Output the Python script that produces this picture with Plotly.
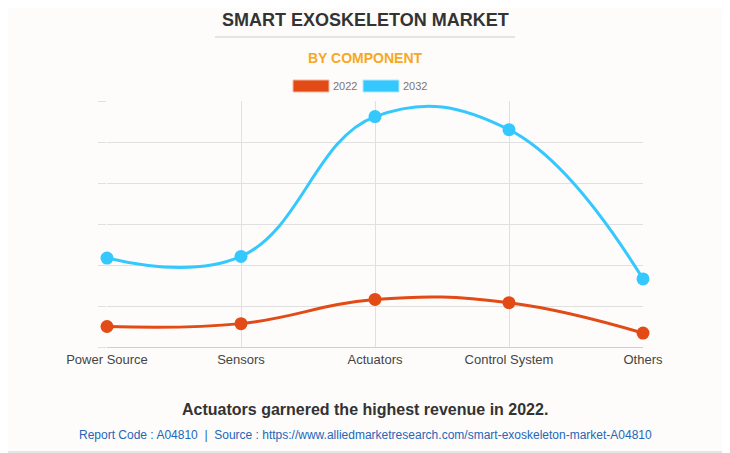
import plotly.graph_objects as go

categories = ["Power Source", "Sensors", "Actuators", "Control System", "Others"]
values_2022 = [0.50, 0.57, 1.16, 1.08, 0.34]
values_2032 = [2.17, 2.21, 5.62, 5.30, 1.66]
series_names = ["2022", "2032"]
colors = ["#E24A16", "#35C8FF"]

FONT = "Liberation Sans, Arial, sans-serif"
GRID = "#E0E0E0"

# page offset of the figure div (body margin)
OFF = 8
PL, PR, PT, PB = 107 - OFF, 643 - OFF, 101 - OFF, 347 - OFF
W, H = 730, 453
PW, PH = PR - PL, PB - PT


def px(xp):
    return (xp - OFF - PL) / PW


def py(yp):
    return (PB - (yp - OFF)) / PH


fig = go.Figure()
for name, vals, col in zip(series_names, [values_2022, values_2032], colors):
    fig.add_trace(go.Scatter(
        x=list(range(len(categories))), y=vals, name=name, mode="lines+markers",
        line=dict(color=col, width=3, shape="spline", smoothing=1.2),
        marker=dict(color=col, size=13),
        cliponaxis=False, showlegend=False,
    ))

fig.update_layout(
    width=W, height=H,
    margin=dict(l=PL, r=W - PR, t=PT, b=H - PB),
    paper_bgcolor="#FDFCFB", plot_bgcolor="#FDFCFB",
    font=dict(family=FONT),
    xaxis=dict(
        range=[0, 4], tickmode="array", tickvals=list(range(len(categories))),
        ticktext=categories, showgrid=True, gridcolor=GRID, gridwidth=1,
        zeroline=False, showline=True, linecolor="#CFCFCF", linewidth=1,
        ticks="", tickfont=dict(size=13, color="#444444", family=FONT),
    ),
    yaxis=dict(
        range=[0, 6], dtick=1, showgrid=True, gridcolor=GRID, gridwidth=1,
        zeroline=False, showticklabels=False, ticks="outside", ticklen=8,
        tickcolor=GRID, showline=False,
    ),
    shapes=[
        dict(type="line", xref="paper", yref="paper", x0=px(215), x1=px(515),
             y0=py(37), y1=py(37), line=dict(color="#CCCCCC", width=1)),
        dict(type="rect", xref="paper", yref="paper",
             x0=px(293), x1=px(329), y0=py(92), y1=py(80),
             fillcolor=colors[0], line=dict(color="#F5B8A0", width=1)),
        dict(type="rect", xref="paper", yref="paper",
             x0=px(363), x1=px(399), y0=py(92), y1=py(80),
             fillcolor=colors[1], line=dict(color="#B0E8FF", width=1)),
        dict(type="line", xref="paper", yref="paper", x0=px(0), x1=px(730),
             y0=py(452), y1=py(452), line=dict(color="#E6E6E6", width=2)),
    ],
)

ann = [
    dict(text="<b>SMART EXOSKELETON MARKET</b>", x=365, y=20, size=18, color="#333333"),
    dict(text="<b>BY COMPONENT</b>", x=365, y=58, size=14, color="#F7A823"),
    dict(text="2022", x=345, y=86, size=11, color="#777777"),
    dict(text="2032", x=415, y=86, size=11, color="#777777"),
    dict(text="<b>Actuators garnered the highest revenue in 2022.</b>", x=365, y=409, size=16, color="#333333"),
    dict(text="Report Code : A04810  |  Source : https://www.alliedmarketresearch.com/smart-exoskeleton-market-A04810",
         x=365, y=435, size=12, color="#2466B8"),
]
for a in ann:
    fig.add_annotation(
        text=a["text"], xref="paper", yref="paper",
        x=px(a["x"]), y=py(a["y"]),
        xanchor="center", yanchor="middle", showarrow=False,
        font=dict(size=a["size"], color=a["color"], family=FONT),
    )

fig.write_html("out.html")
